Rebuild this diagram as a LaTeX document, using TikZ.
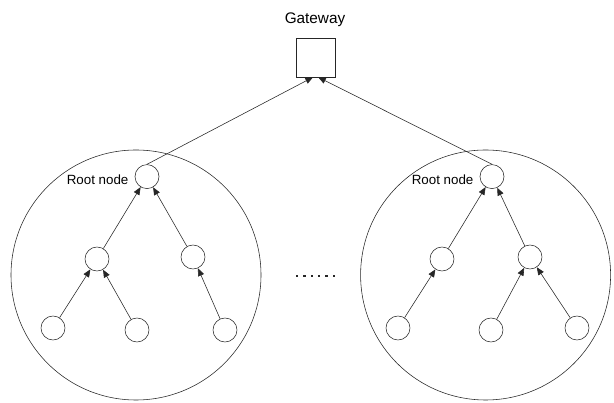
\documentclass[tikz,border=0pt]{standalone}
\usepackage{fontspec}
\setmainfont{Liberation Sans}
\usetikzlibrary{positioning, arrows.meta}

\begin{document}
\begin{tikzpicture}
[sen/.style={circle, draw=black!85, thin, inner sep=0pt, minimum size=0.6cm},
 gtw/.style={rectangle, draw=black!85, thin, inner sep=0pt, minimum size=0.975cm},
 clu/.style={circle, draw=black!85, thin, inner sep=0pt, minimum size=6.25cm},
 lbl/.style={inner sep=0pt, font=\fontsize{9.5}{11}\selectfont},
 ->/.style={draw=black!85, thin, arrows={-Triangle[length=5.5pt, width=4.5pt]}}]

\useasboundingbox (0,0) rectangle (15.35,10.075);

% gateway and its label
\node[gtw] (G) at (7.89, 8.64) {};
\node[lbl, anchor=base, font=\fontsize{10.9}{12}\selectfont] (Gl) at (7.875, 9.475) {Gateway};

% the two clusters
\node[clu] (CL) at (3.4, 3.2) {};
\node[clu] (CR) at (12.14, 3.2) {};

% left tree
\node[sen] (LR) at (3.675, 5.66) {};
\node[sen] (LA) at (2.425, 3.6) {};
\node[sen] (LB) at (4.825, 3.65) {};
\node[sen] (L1) at (1.325, 1.875) {};
\node[sen] (L2) at (3.425, 1.825) {};
\node[sen] (L3) at (5.625, 1.825) {};
\node[lbl] (LRl) [left = 0.15 of LR, yshift=-2.5pt] {Root node};

% right tree
\node[sen] (RR) at (12.3, 5.66) {};
\node[sen] (RA) at (11.05, 3.6) {};
\node[sen] (RB) at (13.25, 3.65) {};
\node[sen] (R1) at (9.95, 1.875) {};
\node[sen] (R2) at (12.275, 1.825) {};
\node[sen] (R3) at (14.425, 1.875) {};
\node[lbl] (RRl) [left = 0.15 of RR, yshift=-2.5pt] {Root node};

% dots between the clusters
\foreach \i in {0,...,5}
  \fill[black!85] ({7.395+\i*0.185}, 3.145) rectangle ++(0.06, 0.06);

  \draw [->] (LR.north) -- ([xshift=-1.8pt]G.south);
  \draw [->] (RR.north) -- ([xshift=1.8pt]G.south);

  \draw [->] (LA) -- (LR);
  \draw [->] (LB) -- (LR);
  \draw [->] (L1) -- (LA);
  \draw [->] (L2) -- (LA);
  \draw [->] (L3) -- (LB);

  \draw [->] (RA) -- (RR);
  \draw [->] (RB) -- (RR);
  \draw [->] (R1) -- (RA);
  \draw [->] (R2) -- (RB);
  \draw [->] (R3) -- (RB);

\end{tikzpicture}
\end{document}
